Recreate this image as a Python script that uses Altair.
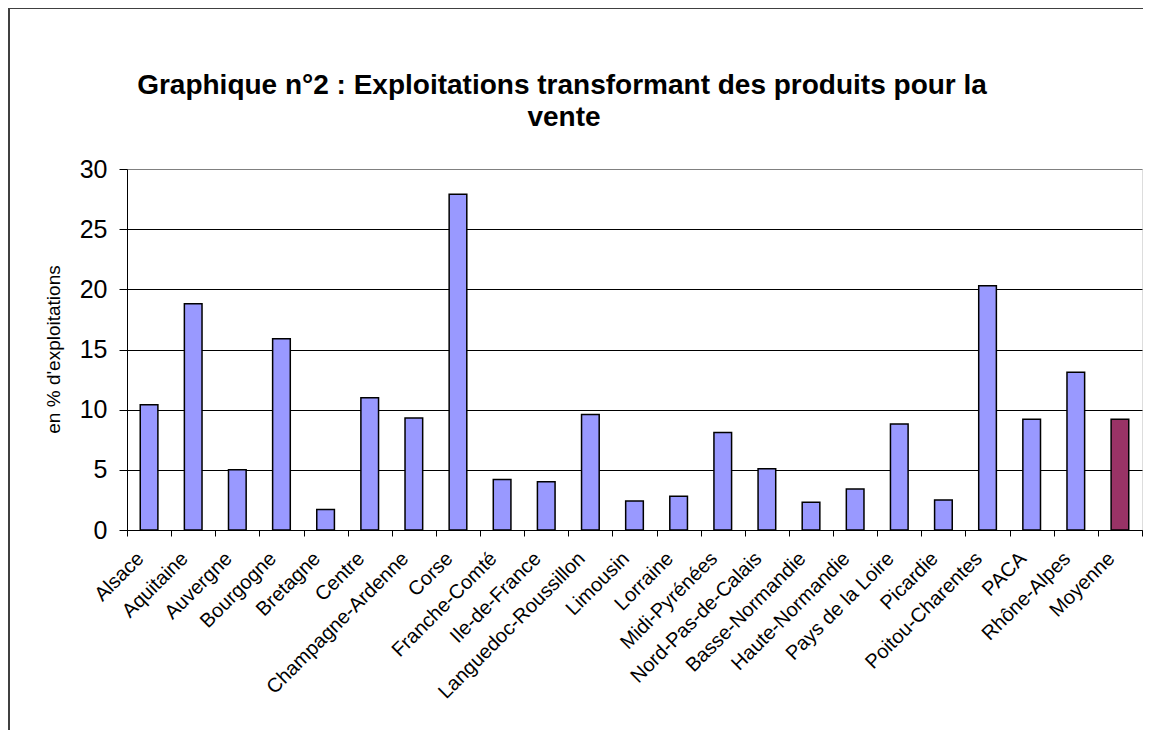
import altair as alt
import pandas as pd

regions = ["Alsace", "Aquitaine", "Auvergne", "Bourgogne", "Bretagne", "Centre",
           "Champagne-Ardenne", "Corse", "Franche-Comté", "Ile-de-France",
           "Languedoc-Roussillon", "Limousin", "Lorraine", "Midi-Pyrénées",
           "Nord-Pas-de-Calais", "Basse-Normandie", "Haute-Normandie",
           "Pays de la Loire", "Picardie", "Poitou-Charentes", "PACA",
           "Rhône-Alpes", "Moyenne"]
values = [10.4, 18.8, 5.0, 15.9, 1.7, 11.0, 9.3, 27.9, 4.2, 4.0, 9.6, 2.4, 2.8,
          8.1, 5.1, 2.3, 3.4, 8.8, 2.5, 20.3, 9.2, 13.1, 9.2]
kinds = ["Région"] * 22 + ["Moyenne"]
y_ticks = [0, 5, 10, 15, 20, 25, 30]
title_lines = ["Graphique n°2 : Exploitations transformant des produits pour la", "vente"]

df = pd.DataFrame({"region": regions, "value": values, "kind": kinds})

FONT = "Liberation Sans"

bars = alt.Chart(df).mark_bar(
    width=alt.RelativeBandSize(0.4), stroke="black", strokeWidth=1.5
).encode(
    x=alt.X("region:N", sort=regions, title=None,
            scale=alt.Scale(paddingInner=0, paddingOuter=0),
            axis=alt.Axis(tickBand="extent", labelAngle=-45, labelAlign="right",
                          labelBaseline="top", labelFontSize=20, labelFont=FONT,
                          labelColor="black", domainColor="black", tickColor="black",
                          tickSize=6, labelPadding=12, labelOffset=-16,
                          labelOverlap=False, labelLimit=300, grid=False)),
    y=alt.Y("value:Q", title="en % d'exploitations",
            scale=alt.Scale(domain=[0, 30], nice=False),
            axis=alt.Axis(values=y_ticks, labelFontSize=25, labelFont=FONT,
                          labelColor="black", domainColor="black", tickColor="black",
                          tickSize=8, labelPadding=12,
                          gridColor=alt.condition("datum.value == 30",
                                                  alt.value("#808080"),
                                                  alt.value("black")),
                          gridWidth=1, grid=True,
                          titleFontSize=19, titleFont=FONT, titleFontWeight="normal",
                          titleColor="black", titleAngle=-90, titleX=-74, titleY=180,
                          titleAlign="center", titleBaseline="middle")),
    fill=alt.Fill("kind:N", scale=alt.Scale(domain=["Région", "Moyenne"],
                                            range=["#9999FF", "#993366"]),
                  legend=None),
)

border = alt.Chart(alt.Data(values=[{}])).mark_rect(
    fill=None, stroke="#404040", strokeWidth=2
).encode(
    x=alt.value(-118), x2=alt.value(1300),
    y=alt.value(-161), y2=alt.value(900),
)

title1 = alt.Chart(alt.Data(values=[{}])).mark_text(
    font=FONT, fontSize=28, fontWeight="bold", color="black",
    align="center", baseline="middle"
).encode(x=alt.value(435), y=alt.value(-83), text=alt.value(title_lines[0]))

title2 = alt.Chart(alt.Data(values=[{}])).mark_text(
    font=FONT, fontSize=28, fontWeight="bold", color="black",
    align="center", baseline="middle"
).encode(x=alt.value(437), y=alt.value(-51), text=alt.value(title_lines[1]))

chart = alt.layer(border, bars, title1, title2).properties(
    width=1015, height=361,
    autosize=alt.AutoSizeParams(type="none"),
    padding={"left": 119, "top": 161, "right": 1, "bottom": 200},
).configure_view(
    fill="#C0C0C0", stroke="#808080", strokeWidth=1.5
).configure(background="white")

chart.save("out.html", embed_options={"renderer": "svg", "actions": False})
